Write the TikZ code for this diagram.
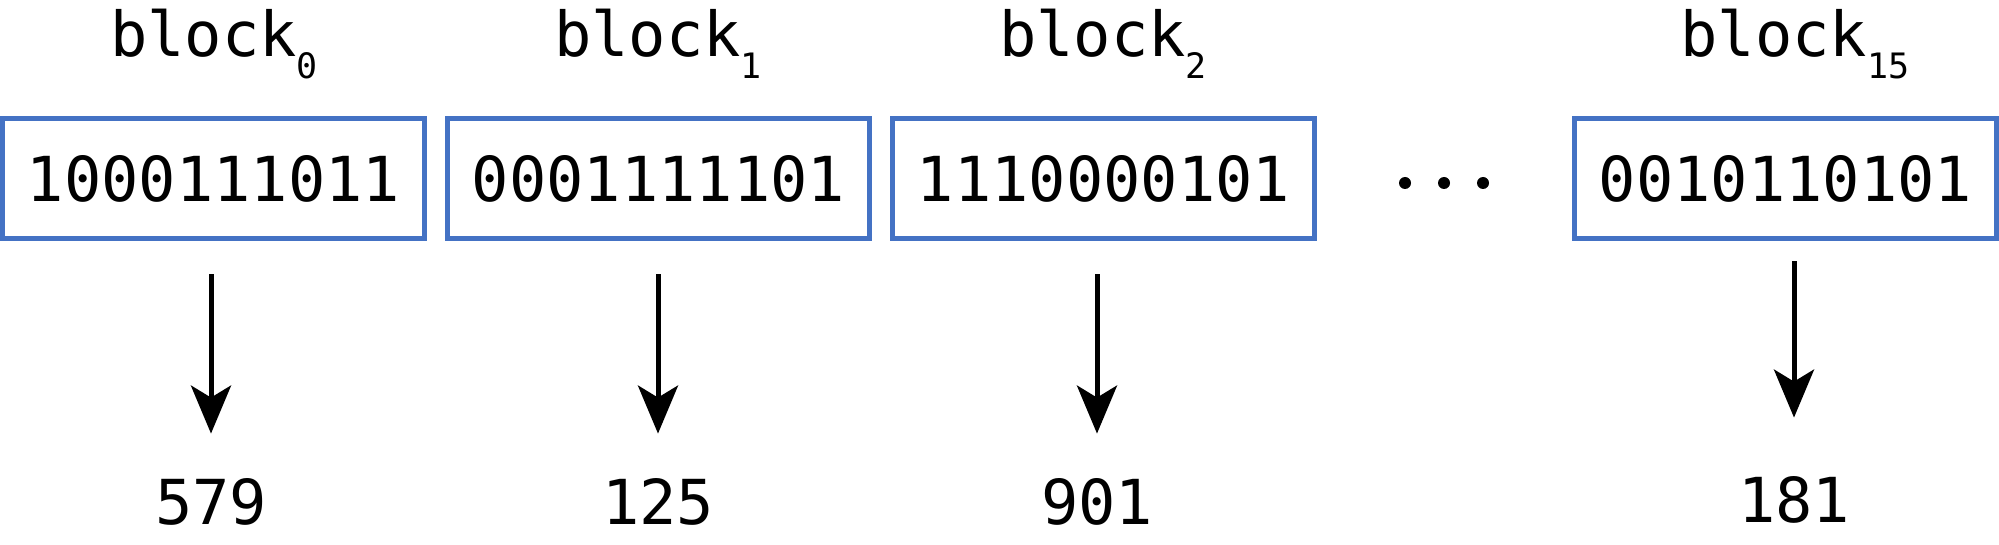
\documentclass[tikz,border=0pt]{standalone}
\usepackage{fontspec}
\setmonofont{DejaVu Sans Mono}
\usetikzlibrary{arrows.meta,positioning}
\definecolor{blockblue}{RGB}{68,114,196}

% label with lowered index
\newcommand{\blk}[1]{block\raisebox{-11pt}{\fontsize{17.5}{20}\selectfont #1}}

\tikzset{
    bits/.style={draw=blockblue, line width=2.5pt, minimum width=211pt, minimum height=60pt,
        inner sep=0pt, font=\ttfamily\fontsize{31}{36}\selectfont},
    blabel/.style={anchor=base, inner sep=0pt, font=\ttfamily\fontsize{31}{36}\selectfont},
    value/.style={anchor=base, inner sep=0pt, font=\ttfamily\fontsize{31}{36}\selectfont},
    mapto/.style={-{Stealth[length=24pt, width=20pt, inset=6pt]}, line width=2.5pt}
}

\begin{document}
\begin{tikzpicture}[x=0.5pt, y=-0.5pt]
    \useasboundingbox (0,0) rectangle (1999,545);
    % blocks
    \node[bits] (b0) at (213.5,178.5) {1000111011};
    \node[bits] (b1) at (658.5,178.5) {0001111101};
    \node[bits] (b2) at (1103.5,178.5) {1110000101};
    \node[bits] (b15) at (1785.5,178.5) {0010110101};
    \foreach \x in {1405,1444,1483}
        \fill (\x,183) circle (6);
    % labels
    \node[blabel] (l0) at (214,57) {\blk{0}};
    \node[blabel] (l1) at (658,57) {\blk{1}};
    \node[blabel] (l2) at (1103,57) {\blk{2}};
    \node[blabel] (l15) at (1795,57) {\blk{15}};
    % values
    \node[value] (v0) at (211,524) {579};
    \node[value] (v1) at (658,524) {125};
    \node[value] (v2) at (1097,524) {901};
    \node[value] (v15) at (1794,523) {181};
    \foreach \b in {0,1,2}
        \draw[mapto, shorten <=16.75pt, shorten >=22pt] (b\b.south -| v\b) -- (v\b.north);
    \draw[mapto, shorten <=10.25pt, shorten >=29.5pt] (b15.south -| v15) -- (v15.north);
\end{tikzpicture}
\end{document}
